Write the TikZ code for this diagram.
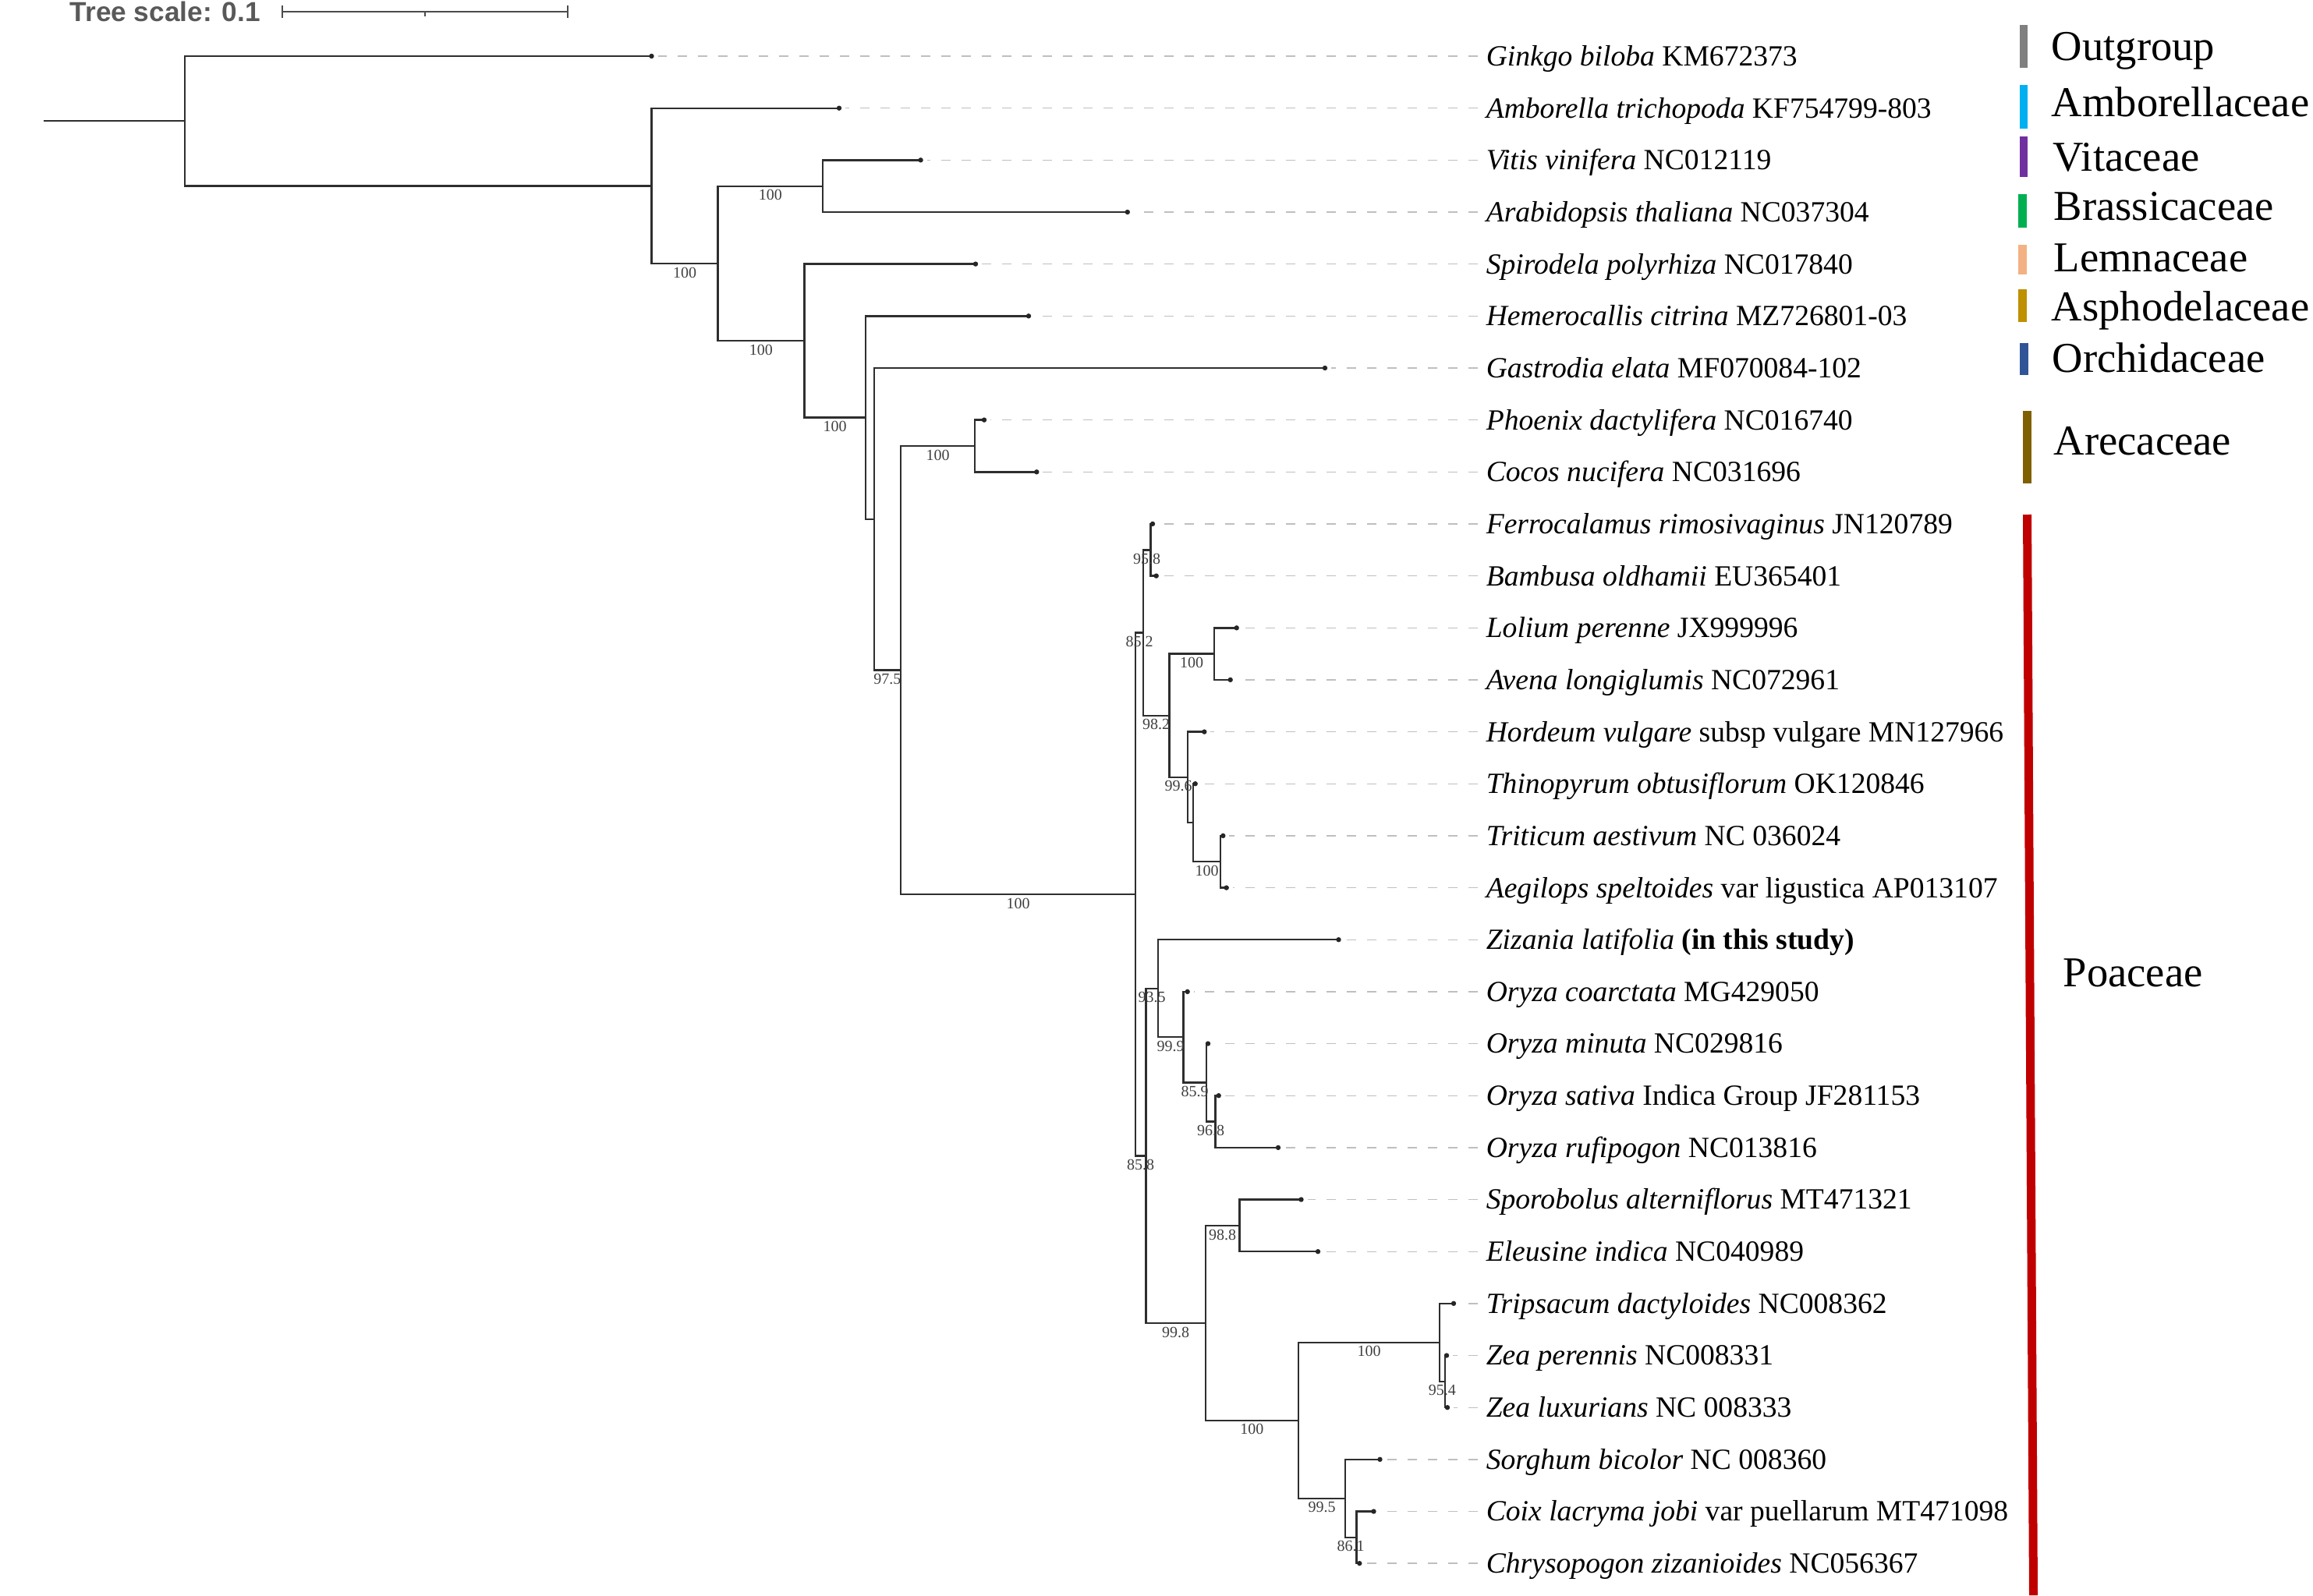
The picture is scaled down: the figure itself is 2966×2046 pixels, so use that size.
\documentclass[tikz,border=0pt]{standalone}
\usepackage{fontspec}
\setmainfont{Liberation Serif}
\newfontfamily\arialf{Liberation Sans}
\usetikzlibrary{calc}
\definecolor{cOut}{HTML}{808080}
\definecolor{cAmb}{HTML}{00B0F0}
\definecolor{cVit}{HTML}{7030A0}
\definecolor{cBra}{HTML}{00B050}
\definecolor{cLem}{HTML}{F4B183}
\definecolor{cAsp}{HTML}{BF9000}
\definecolor{cOrc}{HTML}{2F5597}
\definecolor{cAre}{HTML}{7F6000}
\definecolor{cPoa}{HTML}{C00000}
\tikzset{
  br/.style={line width=0.6pt, draw=black!82},
  leader/.style={line width=0.35pt, draw=black!25, dash pattern=on 2.9pt off 3.6pt},
  tipdot/.style={fill=black!85},
  tax/.style={anchor=base west, inner sep=0pt, font=\fontsize{9.4}{11}\selectfont},
  bsl/.style={anchor=north, inner sep=0pt, yshift=-1pt, text=black!75, font=\fontsize{5}{6}\selectfont},
  legtext/.style={anchor=base west, inner sep=0pt, font=\fontsize{13.65}{15}\selectfont},
}
\newcommand\taxon[5]{%
  \coordinate (t#1) at (#2,#3);
  \node[tax] (l#1) at (1905,#3+12.4) {\textit{#4}#5};
  \draw[leader] ([xshift=-2.5pt]l#1.west |- t#1) -- ([xshift=2pt]t#1);
}
\newcommand\brn[2]{\draw[br] (#1) |- (#2);}
\newcommand\bsv[3]{\node[bsl] (b#2) at ($(#1|-#2)!0.5!(#2)$) {#3};}
\begin{document}
\begin{tikzpicture}[x=0.25pt,y=-0.25pt]
\useasboundingbox (0,0) rectangle (2966,2046);
% tree scale
\node[anchor=base west, inner sep=0pt, text=black!65, font=\arialf\bfseries\fontsize{8.8}{10}\selectfont] (ts) at (89,27) {Tree scale: 0.1};
\coordinate (sb1) at (361.6,15);
\coordinate (sb2) at (728.3,15);
\coordinate (sbm) at (545,15);
\draw[line width=0.5pt, draw=black!70] (sb1) -- (sb2);
\draw[line width=0.5pt, draw=black!70] ([yshift=1.9pt]sb1) -- ([yshift=-1.9pt]sb1);
\draw[line width=0.5pt, draw=black!70] ([yshift=1.9pt]sb2) -- ([yshift=-1.9pt]sb2);
\draw[line width=0.5pt, draw=black!70] (sbm) -- ([yshift=-1.5pt]sbm);
% taxa
\taxon{Gin}{835.5}{72.0}{Ginkgo biloba}{ KM672373}
\taxon{Amb}{1076}{138.7}{Amborella trichopoda}{ KF754799-803}
\taxon{Vit}{1180.6}{205.3}{Vitis vinifera}{ NC012119}
\taxon{Ara}{1445.8}{272.0}{Arabidopsis thaliana}{ NC037304}
\taxon{Spi}{1251}{338.6}{Spirodela polyrhiza}{ NC017840}
\taxon{Hem}{1319}{405.3}{Hemerocallis citrina}{ MZ726801-03}
\taxon{Gas}{1699}{472.0}{Gastrodia elata}{ MF070084-102}
\taxon{Pho}{1262}{538.6}{Phoenix dactylifera}{ NC016740}
\taxon{Coc}{1329.3}{605.3}{Cocos nucifera}{ NC031696}
\taxon{Fer}{1478}{671.9}{Ferrocalamus rimosivaginus}{ JN120789}
\taxon{Bmb}{1482.7}{738.6}{Bambusa oldhamii}{ EU365401}
\taxon{Lol}{1585.7}{805.3}{Lolium perenne}{ JX999996}
\taxon{Ave}{1577.7}{871.9}{Avena longiglumis}{ NC072961}
\taxon{Hor}{1544.3}{938.6}{Hordeum vulgare}{ subsp vulgare MN127966}
\taxon{Thi}{1532.7}{1005.2}{Thinopyrum obtusiflorum}{ OK120846}
\taxon{Tri}{1568.3}{1071.9}{Triticum aestivum}{ NC 036024}
\taxon{Aeg}{1572.7}{1138.6}{Aegilops speltoides}{ var ligustica AP013107}
\taxon{Ziz}{1716.5}{1205.2}{Zizania latifolia}{ \textbf{(in this study)}}
\taxon{Oco}{1522.7}{1271.9}{Oryza coarctata}{ MG429050}
\taxon{Omi}{1549}{1338.5}{Oryza minuta}{ NC029816}
\taxon{Osa}{1562.7}{1405.2}{Oryza sativa}{ Indica Group JF281153}
\taxon{Oru}{1639}{1471.9}{Oryza rufipogon}{ NC013816}
\taxon{Spo}{1668.5}{1538.5}{Sporobolus alterniflorus}{ MT471321}
\taxon{Ele}{1690}{1605.2}{Eleusine indica}{ NC040989}
\taxon{Trp}{1864}{1671.8}{Tripsacum dactyloides}{ NC008362}
\taxon{Zpe}{1855}{1738.5}{Zea perennis}{ NC008331}
\taxon{Zlu}{1856}{1805.2}{Zea luxurians}{ NC 008333}
\taxon{Srg}{1769.5}{1871.8}{Sorghum bicolor}{ NC 008360}
\taxon{Coi}{1761.5}{1938.5}{Coix lacryma jobi}{ var puellarum MT471098}
\taxon{Chr}{1743.3}{2005.1}{Chrysopogon zizanioides}{ NC056367}
% internal nodes
\coordinate (root0) at (56,155.2);
\coordinate (R) at (237,155.2);
\coordinate (N1) at (835.6,238.3);
\coordinate (N2) at (920.5,337.9);
\coordinate (N3) at (1055,238.7);
\coordinate (N4) at (1031.3,437);
\coordinate (N5) at (1110,535.5);
\coordinate (N6) at (1120.7,665.7);
\coordinate (N7) at (1155,859.5);
\coordinate (N8) at (1250,572);
\coordinate (N9) at (1456,1146.9);
\coordinate (N10) at (1466,811.5);
\coordinate (Bam) at (1475.3,705.3);
\coordinate (Poo) at (1499.3,917.8);
\coordinate (LoA) at (1556.7,838.6);
\coordinate (Trt) at (1522.7,996.9);
\coordinate (ThT) at (1530,1055.2);
\coordinate (TrA) at (1565,1105.2);
\coordinate (N11) at (1469.3,1482.3);
\coordinate (Ory) at (1485,1267.7);
\coordinate (O99) at (1517.3,1330.2);
\coordinate (O85) at (1546.7,1388.5);
\coordinate (O96) at (1558.3,1438.6);
\coordinate (P99) at (1545.7,1696.9);
\coordinate (Chl) at (1589.3,1571.9);
\coordinate (And) at (1665,1821.8);
\coordinate (TZ) at (1846,1721.8);
\coordinate (Zea) at (1852.7,1771.8);
\coordinate (Sor) at (1725,1921.8);
\coordinate (CC) at (1739.3,1971.8);
% branches
\draw[br] (root0) -- (R);
\brn{R}{tGin}\brn{R}{N1}
\brn{N1}{tAmb}\brn{N1}{N2}
\brn{N2}{N3}\brn{N2}{N4}
\brn{N3}{tVit}\brn{N3}{tAra}
\brn{N4}{tSpi}\brn{N4}{N5}
\brn{N5}{tHem}\brn{N5}{N6}
\brn{N6}{tGas}\brn{N6}{N7}
\brn{N7}{N8}\brn{N7}{N9}
\brn{N8}{tPho}\brn{N8}{tCoc}
\brn{N9}{N10}\brn{N9}{N11}
\brn{N10}{Bam}\brn{N10}{Poo}
\brn{Bam}{tFer}\brn{Bam}{tBmb}
\brn{Poo}{LoA}\brn{Poo}{Trt}
\brn{LoA}{tLol}\brn{LoA}{tAve}
\brn{Trt}{tHor}\brn{Trt}{ThT}
\brn{ThT}{tThi}\brn{ThT}{TrA}
\brn{TrA}{tTri}\brn{TrA}{tAeg}
\brn{N11}{Ory}\brn{N11}{P99}
\brn{Ory}{tZiz}\brn{Ory}{O99}
\brn{O99}{tOco}\brn{O99}{O85}
\brn{O85}{tOmi}\brn{O85}{O96}
\brn{O96}{tOsa}\brn{O96}{tOru}
\brn{P99}{Chl}\brn{P99}{And}
\brn{Chl}{tSpo}\brn{Chl}{tEle}
\brn{And}{TZ}\brn{And}{Sor}
\brn{TZ}{tTrp}\brn{TZ}{Zea}
\brn{Zea}{tZpe}\brn{Zea}{tZlu}
\brn{Sor}{tSrg}\brn{Sor}{CC}
\brn{CC}{tCoi}\brn{CC}{tChr}
% tip dots
\foreach \t in {Gin,Amb,Vit,Ara,Spi,Hem,Gas,Pho,Coc,Fer,Bmb,Lol,Ave,Hor,Thi,Tri,Aeg,Ziz,Oco,Omi,Osa,Oru,Spo,Ele,Trp,Zpe,Zlu,Srg,Coi,Chr}
  \fill[tipdot] (t\t) circle[radius=0.8pt];
% bootstrap values
\bsv{N1}{N2}{100}
\bsv{N2}{N3}{100}
\bsv{N2}{N4}{100}
\bsv{N4}{N5}{100}
\bsv{N6}{N7}{97.5}
\bsv{N7}{N8}{100}
\bsv{N7}{N9}{100}
\bsv{N9}{N10}{85.2}
\bsv{N10}{Bam}{95.8}
\bsv{N10}{Poo}{98.2}
\bsv{Poo}{LoA}{100}
\bsv{Poo}{Trt}{99.6}
\bsv{ThT}{TrA}{100}
\bsv{N9}{N11}{85.8}
\bsv{N11}{Ory}{93.5}
\bsv{Ory}{O99}{99.9}
\bsv{O99}{O85}{85.9}
\bsv{O85}{O96}{96.8}
\bsv{N11}{P99}{99.8}
\bsv{P99}{Chl}{98.8}
\bsv{P99}{And}{100}
\bsv{And}{TZ}{100}
\bsv{TZ}{Zea}{95.4}
\bsv{And}{Sor}{99.5}
\bsv{Sor}{CC}{86.1}
% legend
\fill[cOut] (2590,32) rectangle (2600,87);
\fill[cAmb] (2590,109) rectangle (2600,165);
\fill[cVit] (2590,175) rectangle (2600,227);
\fill[cBra] (2588,249) rectangle (2599,292);
\fill[cLem] (2588,314) rectangle (2599,352);
\fill[cAsp] (2588,371) rectangle (2599,413);
\fill[cOrc] (2590,440) rectangle (2601,481);
\fill[cAre] (2594,527) rectangle (2605,620);
\coordinate (pb1) at (2599.5,660);
\coordinate (pb2) at (2607.5,2046);
\draw[cPoa, line width=2.75pt] (pb1) -- (pb2);
\node[legtext] (gOut) at (2630,77) {Outgroup};
\node[legtext] (gAmb) at (2630,149) {Amborellaceae};
\node[legtext] (gVit) at (2632,219) {Vitaceae};
\node[legtext] (gBra) at (2633,282) {Brassicaceae};
\node[legtext] (gLem) at (2633,348) {Lemnaceae};
\node[legtext] (gAsp) at (2630,411) {Asphodelaceae};
\node[legtext] (gOrc) at (2631,477) {Orchidaceae};
\node[legtext] (gAre) at (2633,583) {Arecaceae};
\node[legtext] (gPoa) at (2645,1265) {Poaceae};
\end{tikzpicture}
\end{document}
